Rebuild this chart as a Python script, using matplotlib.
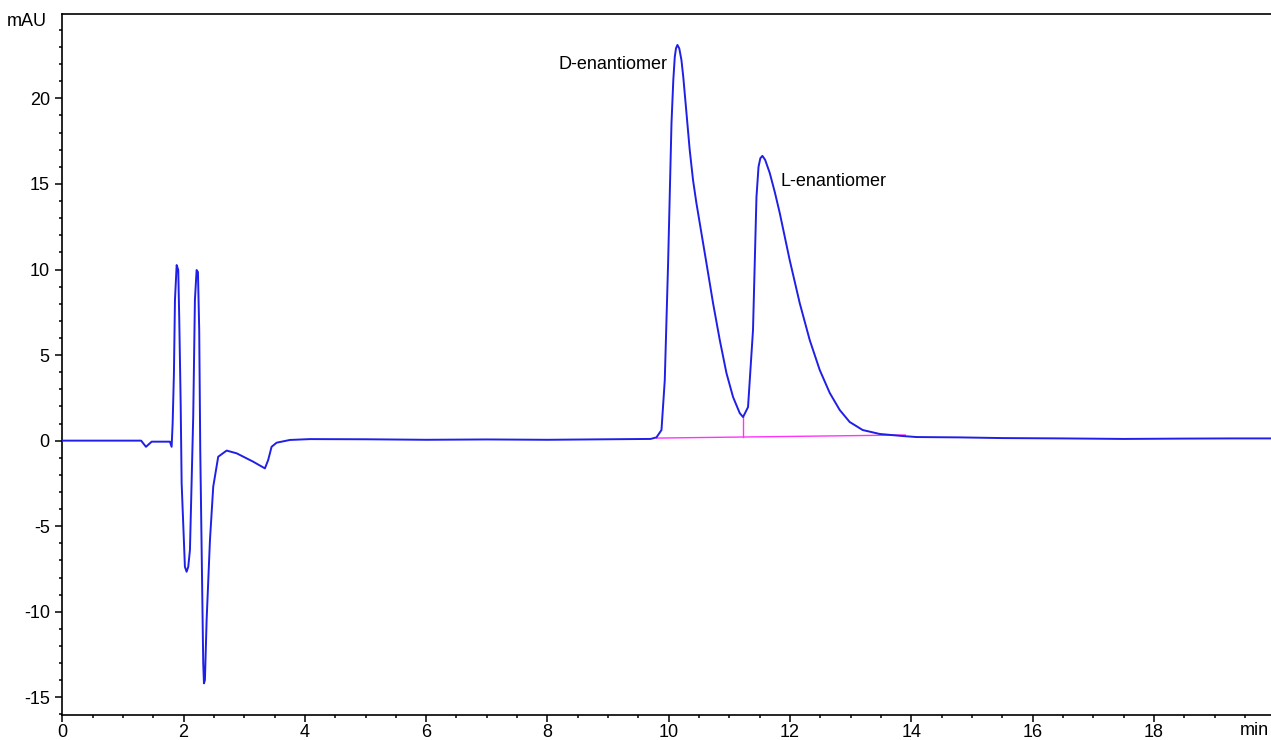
import matplotlib
matplotlib.use("Agg")
import matplotlib.pyplot as plt
from matplotlib.ticker import MultipleLocator

plt.rcParams['font.family'] = ['Liberation Sans', 'DejaVu Sans']
plt.rcParams['axes.unicode_minus'] = False

# Chromatogram trace: time (min), signal (mAU)
time_min = [0.0, 1.30, 1.380, 1.474, 1.775, 1.803, 1.820, 1.841, 1.858, 1.886, 1.912, 1.929,
            1.952, 1.968, 2.022, 2.050, 2.077, 2.105, 2.159, 2.187, 2.215, 2.237, 2.258,
            2.275, 2.298, 2.324, 2.336, 2.352, 2.380, 2.435, 2.489, 2.571, 2.710, 2.875,
            3.148, 3.341, 3.395, 3.451, 3.534, 3.753, 4.083, 5.0, 6.0, 7.0, 8.0, 9.0, 9.70,
            9.797, 9.880, 9.934, 9.989, 10.045, 10.075, 10.099, 10.119, 10.143, 10.173,
            10.209, 10.239, 10.292, 10.345, 10.400, 10.455, 10.511, 10.621, 10.730, 10.841,
            10.951, 11.060, 11.170, 11.225, 11.307, 11.389, 11.446, 11.480, 11.510, 11.544,
            11.590, 11.665, 11.750, 11.830, 11.994, 12.159, 12.324, 12.489, 12.654, 12.819,
            12.983, 13.198, 13.478, 13.857, 14.088, 14.8, 15.5, 16.5, 17.5, 18.5, 19.3, 19.93]
signal_mau = [0.0, 0.0, -0.36, -0.06, -0.06, -0.36, 1.03, 3.95, 8.22, 10.26, 9.97, 7.05,
              2.20, -2.48, -7.37, -7.66, -7.37, -6.39, 1.40, 8.22, 9.97, 9.85, 6.45,
              -0.55, -6.39, -13.0, -14.18, -13.99, -10.48, -5.81, -2.69, -0.94, -0.58, -0.74,
              -1.23, -1.62, -1.13, -0.36, -0.12, 0.04, 0.09, 0.08, 0.05, 0.07, 0.05, 0.08, 0.10,
              0.19, 0.62, 3.52, 10.36, 18.56, 21.07, 22.41, 22.92, 23.12, 22.92,
              22.24, 21.26, 19.14, 17.0, 15.23, 13.9, 12.71, 10.38, 8.04, 5.88,
              3.95, 2.55, 1.61, 1.38, 1.96, 6.46, 14.23, 16.0, 16.5, 16.64,
              16.4, 15.64, 14.5, 13.30, 10.55, 8.04, 5.88, 4.13, 2.79, 1.79,
              1.09, 0.62, 0.39, 0.27, 0.21, 0.19, 0.15, 0.13, 0.10, 0.12, 0.13, 0.13]

# Integration baseline (magenta) and peak drop line
baseline_t = [9.80, 13.90]
baseline_v = [0.15, 0.33]
drop_t = 11.225
drop_v = [0.22, 1.38]

peak_labels = ["D-enantiomer", "L-enantiomer"]
label_t = [9.98, 11.84]
label_v = [21.95, 15.13]

fig = plt.figure(figsize=(12.71, 7.40), dpi=100)
ax = fig.add_axes([0.049, 0.0338, 0.951, 0.9473])

ax.plot(time_min, signal_mau, color='#1f1fe6', lw=1.4, zorder=3)
ax.plot(baseline_t, baseline_v, color='#ff33ff', lw=1.0, zorder=2)
ax.plot([drop_t, drop_t], drop_v, color='#ff33ff', lw=1.0, zorder=2)

ax.text(label_t[0], label_v[0], peak_labels[0], ha='right', va='center', fontsize=13)
ax.text(label_t[1], label_v[1], peak_labels[1], ha='left', va='center', fontsize=13)

ax.set_xlim(0, 19.93)
ax.set_ylim(-16.03, 24.93)

ax.xaxis.set_major_locator(MultipleLocator(2))
ax.xaxis.set_minor_locator(MultipleLocator(0.5))
ax.yaxis.set_major_locator(MultipleLocator(5))
ax.yaxis.set_minor_locator(MultipleLocator(1))

ax.tick_params(axis='both', which='major', direction='out', length=5, width=1.1,
               labelsize=13, color='black')
ax.tick_params(axis='both', which='minor', direction='out', length=2.5, width=1.1,
               color='black')
ax.tick_params(axis='x', which='both', pad=1.5)
ax.tick_params(axis='y', which='both', pad=4)

ax.spines['right'].set_visible(False)
for s in ['left', 'top', 'bottom']:
    ax.spines[s].set_linewidth(1.2)

fig.text(0.037, 0.9707, "mAU", ha='right', va='center', fontsize=13)
fig.text(0.998, 0.0125, "min", ha='right', va='center', fontsize=13)

fig.savefig("out.png", dpi=100)
